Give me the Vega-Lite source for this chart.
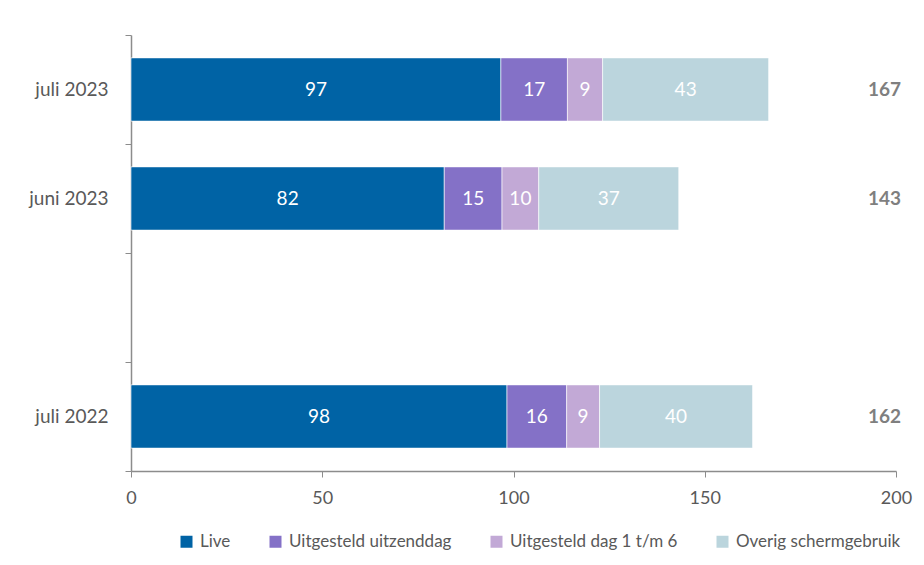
{
  "$schema": "https://vega.github.io/schema/vega-lite/v6.json",
  "width": 765,
  "height": 436,
  "autosize": {"type": "none"},
  "padding": {"left": 131, "top": 35, "right": 28, "bottom": 94},
  "background": "white",
  "config": {
    "font": "Lato",
    "view": {"stroke": null},
    "axis": {"domainColor": "#8c8c8c", "tickColor": "#8c8c8c", "labelColor": "#595959", "labelFont": "Lato", "grid": false}
  },
  "datasets": {
    "bars": [
      {"periode": "juli 2023", "categorie": "Live", "volgorde": 1, "minuten": 96.7},
      {"periode": "juli 2023", "categorie": "Uitgesteld uitzenddag", "volgorde": 2, "minuten": 17.4},
      {"periode": "juli 2023", "categorie": "Uitgesteld dag 1 t/m 6", "volgorde": 3, "minuten": 9.2},
      {"periode": "juli 2023", "categorie": "Overig schermgebruik", "volgorde": 4, "minuten": 43.4},
      {"periode": "juni 2023", "categorie": "Live", "volgorde": 1, "minuten": 81.9},
      {"periode": "juni 2023", "categorie": "Uitgesteld uitzenddag", "volgorde": 2, "minuten": 15.1},
      {"periode": "juni 2023", "categorie": "Uitgesteld dag 1 t/m 6", "volgorde": 3, "minuten": 9.6},
      {"periode": "juni 2023", "categorie": "Overig schermgebruik", "volgorde": 4, "minuten": 36.6},
      {"periode": "juli 2022", "categorie": "Live", "volgorde": 1, "minuten": 98.3},
      {"periode": "juli 2022", "categorie": "Uitgesteld uitzenddag", "volgorde": 2, "minuten": 15.6},
      {"periode": "juli 2022", "categorie": "Uitgesteld dag 1 t/m 6", "volgorde": 3, "minuten": 8.6},
      {"periode": "juli 2022", "categorie": "Overig schermgebruik", "volgorde": 4, "minuten": 40.0}
    ],
    "totalen": [
      {"periode": "juli 2023", "totaal": 167},
      {"periode": "juni 2023", "totaal": 143},
      {"periode": "juli 2022", "totaal": 162}
    ]
  },
  "encoding": {
    "y": {
      "field": "periode",
      "type": "nominal",
      "scale": {"domain": ["juli 2023", "juni 2023", " ", "juli 2022"], "paddingInner": 0, "paddingOuter": 0},
      "axis": {"title": null, "tickBand": "extent", "tickSize": 6, "labelPadding": 17, "labelFontSize": 19, "domainWidth": 1.5}
    }
  },
  "layer": [
    {
      "data": {"name": "bars"},
      "mark": {"type": "bar", "height": {"band": 0.58}, "stroke": "white", "strokeWidth": 0.6},
      "encoding": {
        "x": {
          "field": "minuten", "type": "quantitative", "stack": "zero",
          "scale": {"domain": [0, 200], "nice": false},
          "axis": {"title": null, "values": [0, 50, 100, 150, 200], "labelFlush": false, "tickSize": 6, "labelPadding": 12, "labelFontSize": 18, "domainWidth": 1.5}
        },
        "color": {
          "field": "categorie", "type": "nominal",
          "scale": {
            "domain": ["Live", "Uitgesteld uitzenddag", "Uitgesteld dag 1 t/m 6", "Overig schermgebruik"],
            "range": ["#0063A5", "#8471C7", "#C2A9D6", "#BBD5DD"]
          },
          "legend": {
            "title": null, "orient": "none", "direction": "horizontal",
            "legendX": 47, "legendY": 498,
            "symbolType": "square", "symbolSize": 144, "symbolStrokeWidth": 0,
            "labelFontSize": 17, "labelColor": "#595959", "labelFont": "Lato", "labelLimit": 0,
            "labelOffset": 5, "columnPadding": 36
          }
        },
        "order": {"field": "volgorde", "type": "quantitative"}
      }
    },
    {
      "data": {"name": "bars"},
      "mark": {"type": "text", "color": "white", "fontSize": 19, "align": "center", "baseline": "middle"},
      "encoding": {
        "x": {"field": "minuten", "type": "quantitative", "stack": "zero", "bandPosition": 0.5},
        "order": {"field": "volgorde", "type": "quantitative"},
        "detail": {"field": "categorie"},
        "text": {"field": "minuten", "type": "quantitative", "format": ".0f"}
      }
    },
    {
      "data": {"name": "totalen"},
      "mark": {"type": "text", "color": "#7F7F7F", "fontSize": 19, "fontWeight": "bold", "align": "center", "baseline": "middle"},
      "encoding": {
        "x": {"datum": 197, "type": "quantitative"},
        "text": {"field": "totaal", "type": "quantitative"}
      }
    }
  ]
}
